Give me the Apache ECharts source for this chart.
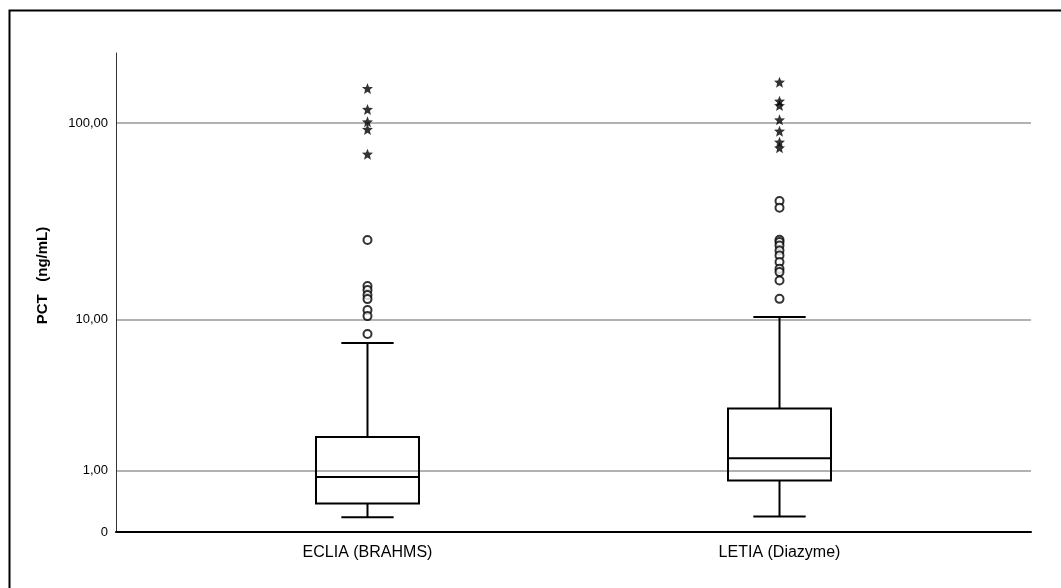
<!DOCTYPE html>
<html>
<head>
<meta charset="utf-8">
<script src="https://cdn.jsdelivr.net/npm/echarts@6/dist/echarts.min.js"></script>
<style>
  html, body { margin: 0; padding: 0; background: #fff; }
  #chart { width: 1061px; height: 588px; }
</style>
</head>
<body>
<div id="chart"></div>
<script>
// ---- data (PCT, ng/mL) ----
const categories = ['ECLIA (BRAHMS)', 'LETIA (Diazyme)'];
// [lower whisker, Q1, median, Q3, upper whisker]
const eclaBox = [0.18, 0.38, 0.86, 1.92, 7.44];
const letiaBox = [0.19, 0.79, 1.30, 3.03, 10.32];
// outliers (circles)
const eclaOutliers = [26.0, 15.05, 14.35, 13.5, 12.86, 11.24, 10.44, 8.34];
const letiaOutliers = [40.9, 37.9, 26.1, 25.4, 24.4, 23.0, 21.7, 20.05, 18.5, 17.8, 16.1, 12.9];
// extreme values (stars)
const eclaExtremes = [148.4, 116.9, 101.5, 93.1, 70.2];
const letiaExtremes = [159.4, 128.5, 122.3, 103.9, 91.3, 80.5, 75.5];
// y axis ticks
const yTickValues = [0, 1, 10, 100];
const yTickLabels = ['0', '1,00', '10,00', '100,00'];
const yAxisTopValue = 222;

// axis transform: log10(x + 1)
const tf = v => Math.log10(v + 1);

const boxes = [eclaBox, letiaBox];
const outliers = [eclaOutliers, letiaOutliers];
const extremes = [eclaExtremes, letiaExtremes];

const boxData = boxes.map((b, i) => [i].concat(b.map(tf)));
const circleData = [];
outliers.forEach((arr, i) => arr.forEach(v => circleData.push([i, tf(v)])));
const starData = [];
extremes.forEach((arr, i) => arr.forEach(v => starData.push([i, tf(v)])));

const yTicksT = yTickValues.map(tf);

const STAR = 'path://M50,0 L63,33 L98,35 L71,58 L80,93 L50,74 L20,93 L29,58 L2,35 L37,33 Z';
const FONT = 'Liberation Sans, Arial, sans-serif';

const chart = echarts.init(document.getElementById('chart'), null, { renderer: 'canvas' });

function renderBox(params, api) {
  const x = api.value(0);
  const lo = api.value(1), q1 = api.value(2), med = api.value(3), q3 = api.value(4), hi = api.value(5);
  const boxHalf = 0.125, capHalf = 0.0635;
  const pLoL = api.coord([x - capHalf, lo]), pLoR = api.coord([x + capHalf, lo]);
  const pHiL = api.coord([x - capHalf, hi]), pHiR = api.coord([x + capHalf, hi]);
  const c = api.coord([x, 0])[0];
  const q1L = api.coord([x - boxHalf, q1]), q3R = api.coord([x + boxHalf, q3]);
  const medL = api.coord([x - boxHalf, med]), medR = api.coord([x + boxHalf, med]);
  const yLo = api.coord([x, lo])[1], yQ1 = q1L[1], yQ3 = q3R[1], yHi = api.coord([x, hi])[1];
  const st = { stroke: '#000', lineWidth: 2, fill: null };
  return {
    type: 'group',
    children: [
      { type: 'line', shape: { x1: c, y1: yLo, x2: c, y2: yQ1 }, style: st },
      { type: 'line', shape: { x1: c, y1: yQ3, x2: c, y2: yHi }, style: st },
      { type: 'line', shape: { x1: pLoL[0], y1: pLoL[1], x2: pLoR[0], y2: pLoR[1] }, style: st },
      { type: 'line', shape: { x1: pHiL[0], y1: pHiL[1], x2: pHiR[0], y2: pHiR[1] }, style: st },
      { type: 'rect', shape: { x: q1L[0], y: yQ3, width: q3R[0] - q1L[0], height: yQ1 - yQ3 }, style: st },
      { type: 'line', shape: { x1: medL[0], y1: medL[1], x2: medR[0], y2: medR[1] }, style: st }
    ]
  };
}

const option = {
  backgroundColor: '#fff',
  animation: false,
  graphic: [{
    type: 'rect',
    left: 7, top: 8,
    shape: { width: 1100, height: 700 },
    style: { fill: null, stroke: '#000', lineWidth: 2 },
    silent: true
  }],
  grid: { left: 116, right: 30, top: 53, bottom: 56 },
  xAxis: {
    type: 'value',
    min: -0.6104, max: 1.6104,
    axisLine: { show: true, onZero: false, lineStyle: { color: '#000', width: 2 } },
    axisTick: { show: false },
    splitLine: { show: false },
    axisLabel: {
      customValues: [0, 1],
      formatter: v => categories[Math.round(v)] || '',
      color: '#000', fontSize: 16, fontFamily: FONT, margin: 13
    }
  },
  yAxis: {
    type: 'value',
    min: 0, max: tf(yAxisTopValue),
    name: 'PCT   (ng/mL)',
    nameLocation: 'middle',
    nameRotate: 90,
    nameGap: 66,
    nameTextStyle: { color: '#000', fontSize: 15, fontWeight: 'bold', fontFamily: FONT, padding: [0, 0, 0, 34] },
    axisLine: { show: true, onZero: false, lineStyle: { color: '#333', width: 1 } },
    axisTick: { show: false, customValues: yTicksT },
    splitLine: { show: true, lineStyle: { color: '#999', width: 1.5 } },
    axisLabel: {
      customValues: yTicksT,
      formatter: v => {
        let best = 0, d = Infinity;
        yTicksT.forEach((t, i) => { if (Math.abs(t - v) < d) { d = Math.abs(t - v); best = i; } });
        return yTickLabels[best];
      },
      color: '#000', fontSize: 13, fontFamily: FONT, margin: 8
    }
  },
  series: [
    {
      type: 'custom',
      name: 'box',
      renderItem: renderBox,
      data: boxData,
      encode: { x: 0, y: [1, 2, 3, 4, 5] },
      z: 3
    },
    {
      type: 'scatter',
      name: 'outliers',
      data: circleData,
      symbol: 'emptyCircle',
      symbolSize: 8,
      itemStyle: { color: '#000', borderColor: '#000', borderWidth: 1.8 },
      z: 4
    },
    {
      type: 'scatter',
      name: 'extremes',
      data: starData,
      symbol: STAR,
      symbolSize: 11,
      itemStyle: { color: '#000' },
      z: 4
    }
  ]
};

chart.setOption(option);
</script>
</body>
</html>
